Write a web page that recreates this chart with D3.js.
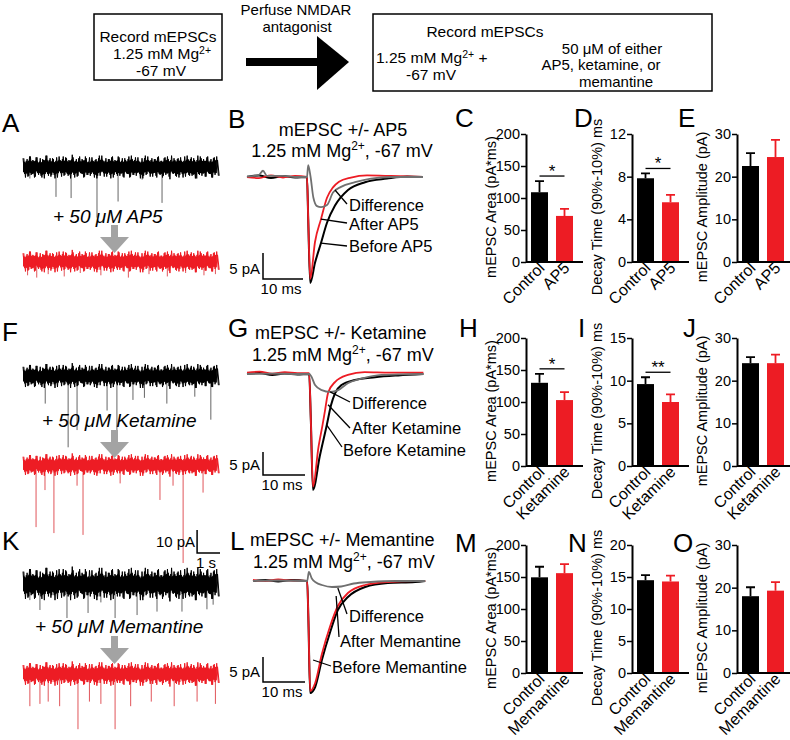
<!DOCTYPE html>
<html>
<head>
<meta charset="utf-8">
<script src="https://cdn.jsdelivr.net/npm/d3@7"></script>
<style>
  body { margin: 0; background: #fff; }
  text { font-family: "Liberation Sans", Arial, sans-serif; fill: #000; }
</style>
</head>
<body>
<div class="chart"></div>
<script>
// ---------- data ----------
const drugs = ['AP5', 'Ketamine', 'Memantine'];

const areaControl = [109, 130, 149.5];
const areaControlErr = [17.5, 14, 16.5];
const areaDrug = [72, 103, 156];
const areaDrugErr = [11, 12.5, 14];

const decayControl = [7.85, 9.6, 14.5];
const decayControlErr = [0.45, 0.8, 0.8];
const decayDrug = [5.6, 7.5, 14.3];
const decayDrugErr = [0.7, 0.9, 0.9];

const ampControl = [22.5, 24.1, 18];
const ampControlErr = [3, 1.4, 2.1];
const ampDrug = [24.6, 24.1, 19.3];
const ampDrugErr = [4, 2, 2];

const areaTicks = [0, 50, 100, 150, 200];
const decayTicks = [[0, 4, 8, 12], [0, 5, 10, 15], [0, 5, 10, 15, 20]];
const ampTicks = [0, 10, 20, 30];

const areaSig = ['*', '*', ''];
const decaySig = ['*', '**', ''];
const ampSig = ['', '', ''];

// averaged mEPSC waveforms [ms, pA]
const ap5Before = [[0, 0], [3, 0.3], [6, -0.2], [9, 0.2], [12, -0.1], [15, 0], [15.3, -8], [15.8, -20.4], [17, -16.5], [18.5, -12.7], [20, -8.8], [22, -5.5], [25.25, -2.5], [29.5, -1], [35, -0.3], [40, 0.1], [44, 0]];
const ap5After = [[0, 0], [3, -0.2], [6, 0.3], [9, -0.1], [12, 0.2], [15, 0], [15.3, -8], [15.8, -19.6], [17, -12.5], [18.5, -8.1], [20, -4], [21.5, -2], [23, -0.9], [26, -0.1], [30, 0.3], [36, 0.2], [44, 0]];
const ap5Diff = [[0, 0.1], [3, 0.4], [4, 1.2], [5, 0.2], [9, 0.2], [12, 0], [15, 0], [15.3, 2.3], [15.9, 0], [16.6, -4], [17.5, -5.6], [18.5, -5.8], [20, -5.4], [21.5, -3], [23.5, -1.9], [27, -1], [31, -0.3], [36, 0], [44, 0]];

const ketBefore = [[0, 0], [3, 0.2], [6, -0.2], [9, 0.1], [12, -0.1], [14.8, 0], [15.2, -10], [15.7, -25.2], [17.3, -18], [19, -11.1], [20, -6.8], [20.95, -4.2], [22.5, -2.4], [25.7, -1.3], [30.5, -0.7], [36, -0.3], [42, 0]];
const ketAfter = [[0, 0.3], [3, 0.5], [6, 0.1], [9, 0.4], [12, 0.2], [14.8, 0.2], [15.2, -10], [15.7, -24.5], [17, -16], [18, -11], [18.6, -7.8], [19.3, -4.1], [21, -1.7], [24, -0.2], [28, 0.4], [34, 0.3], [42, 0.3]];
const ketDiff = [[0, 0], [6, 0.1], [12, 0], [14.8, 0], [15.3, -0.5], [16.2, -2.4], [17.8, -3.5], [19.8, -3.9], [21.7, -3.5], [24, -2], [27.3, -1], [32, -0.2], [36, -0.1], [42, 0]];

const memBefore = [[0, 0], [3, 0.2], [6, -0.1], [9, 0.2], [12.9, 0], [13.2, -8], [13.6, -22.4], [14.8, -21.2], [16.4, -15.8], [18.3, -10.4], [20.2, -5.8], [22.6, -3.2], [26.7, -1.2], [32.1, -0.4], [38.6, -0.2], [41, 0]];
const memAfter = [[0, 0.2], [3, 0], [6, 0.3], [9, 0.1], [12.9, 0], [13.2, -8], [13.6, -22], [14.8, -20.4], [16.4, -14.6], [18.3, -9.2], [20.2, -5], [22.6, -2.4], [26.7, -0.8], [32.1, -0.2], [38.6, 0], [41, 0]];
const memDiff = [[0, 0], [6, 0.1], [12.9, 0], [13.3, 1.8], [14, 0.5], [15, -0.3], [16.4, -0.8], [18.8, -1.2], [21, -1.1], [24, -0.5], [28, -0.2], [34, 0], [41, 0]];

// raw recordings: noise envelope (fraction of band) and events [s, pA]
const noiseUpper = [1.0, 0.7, 1.2, 0.8, 1.1, 0.6, 0.9, 1.3, 0.8, 1.0, 0.7, 1.2, 0.9, 1.1, 0.8, 1.4, 0.7, 1.0, 0.9, 1.2, 0.6, 1.1, 0.8, 1.0, 1.3, 0.7, 0.9, 1.1, 0.8, 1.2, 0.7, 1.0, 0.9, 1.3, 0.8, 1.1, 0.6, 1.0, 1.2, 0.8, 0.9, 1.1, 0.7, 1.0, 1.2, 0.8, 1.0, 0.9, 1.1, 0.7, 1.3, 0.9, 1.0, 0.8, 1.2, 0.9, 1.1, 0.7, 1.0, 1.2];
const noiseLower = [0.8, 1.1, 0.9, 1.2, 0.7, 1.0, 1.3, 0.8, 1.1, 0.9, 1.2, 0.7, 1.0, 0.8, 1.3, 0.9, 1.1, 0.7, 1.2, 0.9, 1.0, 0.8, 1.3, 1.0, 0.7, 1.1, 0.9, 1.2, 0.8, 1.0, 1.1, 0.7, 1.2, 0.9, 1.0, 0.8, 1.3, 0.9, 0.7, 1.1, 1.0, 0.8, 1.2, 0.9, 1.1, 0.7, 1.0, 1.2, 0.8, 1.1, 0.9, 1.0, 1.3, 0.8, 1.0, 1.1, 0.7, 1.2, 0.9, 1.0];

const ap5ControlEvents = [[1.44, 13], [2.1, 13.5], [3.23, 22], [4.15, 15], [6.07, 15.6], [0.3, 5], [5.2, 5.5], [7.6, 5]];
const ap5DrugEvents = [[0.2, 6], [0.6, 7], [1.1, 5.5], [1.8, 6.5], [2.5, 5], [3.4, 6], [4.6, 7], [5.5, 5.5], [6.3, 6.5], [7.1, 5], [7.9, 6], [8.4, 5.5]];
const ketControlEvents = [[0.97, 12], [1.97, 31], [2.36, 23.5], [3.67, 15], [4.1, 26.5], [4.8, 10.4], [5.3, 9.5], [6.28, 12], [7.5, 9], [8.2, 19]];
const ketDrugEvents = [[0.57, 27], [0.96, 10.9], [1.35, 29.6], [2.36, 9], [2.62, 30.4], [4.24, 8], [5.98, 15.2], [6.55, 9], [6.99, 42.6], [7.86, 12]];
const memControlEvents = [[0.74, 11.3], [1.92, 14.8], [2.84, 12.6], [4.02, 14.8], [4.98, 13.5], [5.85, 12], [6.94, 12], [8.03, 11], [8.3, 9], [0.3, 7], [3.4, 8], [6.4, 7]];
const memDrugEvents = [[0.3, 14], [0.74, 13], [1.1, 12], [1.6, 14], [2.4, 24], [2.9, 12], [3.4, 13], [4.02, 24], [4.7, 14], [5.6, 12], [6.6, 14], [7.6, 12], [8.4, 13]];

// ---------- setup ----------
const RED = '#ed1c24';
const svg = d3.select('.chart').append('svg')
  .attr('width', 790).attr('height', 740);

const panelLabel = (t, x, y) => svg.append('text').attr('x', x).attr('y', y)
  .attr('font-size', 26).text(t);

// ---------- flow diagram ----------
const flow = svg.append('g');
flow.append('rect').attr('x', 94).attr('y', 14).attr('width', 128).attr('height', 66)
  .attr('fill', 'none').attr('stroke', '#000').attr('stroke-width', 1.5);
flow.append('rect').attr('x', 373).attr('y', 14).attr('width', 339).attr('height', 77)
  .attr('fill', 'none').attr('stroke', '#000').attr('stroke-width', 1.5);

const mgLine = (g, x, y, anchor, tail) => {
  const t = g.append('text').attr('x', x).attr('y', y).attr('font-size', 15.5).attr('text-anchor', anchor);
  t.append('tspan').text('1.25 mM Mg');
  t.append('tspan').attr('font-size', 10.5).attr('dy', -5).text('2+');
  if (tail) t.append('tspan').attr('dy', 5).text(tail);
  return t;
};
flow.append('text').attr('x', 158).attr('y', 42).attr('font-size', 15.5).attr('text-anchor', 'middle').text('Record mEPSCs');
mgLine(flow, 162, 59, 'middle');
flow.append('text').attr('x', 161).attr('y', 76).attr('font-size', 15.5).attr('text-anchor', 'middle').text('-67 mV');

flow.append('text').attr('x', 296).attr('y', 15).attr('font-size', 15).attr('text-anchor', 'middle').text('Perfuse NMDAR');
flow.append('text').attr('x', 297).attr('y', 32).attr('font-size', 15).attr('text-anchor', 'middle').text('antagonist');
flow.append('rect').attr('x', 246).attr('y', 58).attr('width', 73).attr('height', 8).attr('fill', '#000');
flow.append('path').attr('d', 'M317,36 L349,62 L317,90 Z').attr('fill', '#000');

flow.append('text').attr('x', 485).attr('y', 37).attr('font-size', 15.5).attr('text-anchor', 'middle').text('Record mEPSCs');
mgLine(flow, 376, 63, 'start', ' +');
flow.append('text').attr('x', 431).attr('y', 80).attr('font-size', 15.5).attr('text-anchor', 'middle').text('-67 mV');
flow.append('text').attr('x', 612).attr('y', 54).attr('font-size', 15).attr('text-anchor', 'middle').text('50 μM of either');
flow.append('text').attr('x', 601).attr('y', 70).attr('font-size', 15).attr('text-anchor', 'middle').text('AP5, ketamine, or');
flow.append('text').attr('x', 616).attr('y', 87).attr('font-size', 15).attr('text-anchor', 'middle').text('memantine');

// ---------- raw recordings ----------
const rawX = d3.scaleLinear().domain([0, 8.6]).range([23, 220]);
const noiseT = d3.scaleLinear().domain([0, noiseUpper.length]).range([0, 8.6]);
const PX_PER_PA_RAW = 2.3;

const rawTrace = (cy, halfPa, events, color, eventColor) => {
  const y = d3.scaleLinear().domain([0, -50]).range([cy, cy + 50 * PX_PER_PA_RAW]);
  const g = svg.append('g');
  g.selectAll('line').data(events).enter().append('line')
    .attr('x1', d => rawX(d[0])).attr('x2', d => rawX(d[0]))
    .attr('y1', y(0)).attr('y2', d => y(-d[1]))
    .attr('stroke', eventColor).attr('stroke-width', 1);
  // solid core of the noise band
  const core = d3.area()
    .x((d, i) => rawX(noiseT(i)))
    .y0((d, i) => y(-halfPa * 0.7 * noiseLower[i]))
    .y1(d => y(halfPa * 0.7 * d));
  g.append('path').datum(noiseUpper).attr('d', core).attr('fill', color);
  // zig-zag noise excursions, two interleaved passes
  const zig = (up, lo, shift) => up.flatMap((u, i) => [
    [rawX(noiseT(i + shift)), y(halfPa * u)],
    [rawX(noiseT(i + shift + 0.5)), y(-halfPa * lo[i])]
  ]);
  const ln = d3.line();
  g.append('path').attr('d', ln(zig(noiseUpper, noiseLower, 0)))
    .attr('fill', 'none').attr('stroke', color).attr('stroke-width', 1);
  g.append('path').attr('d', ln(zig(noiseLower.slice().reverse(), noiseUpper.slice().reverse(), 0.25)))
    .attr('fill', 'none').attr('stroke', color).attr('stroke-width', 1);
  return y;
};

const drugNote = (text, x, y, arrowTop) => {
  svg.append('text').attr('x', x).attr('y', y).attr('font-size', 19)
    .attr('font-style', 'italic').text(text);
  svg.append('path')
    .attr('d', `M111,${arrowTop} L118,${arrowTop} L118,${arrowTop + 12} L129,${arrowTop + 12} L114.5,${arrowTop + 28} L100,${arrowTop + 12} L111,${arrowTop + 12} Z`)
    .attr('fill', '#a3a3a3');
};

panelLabel('A', 2, 132);
rawTrace(167, 3.8, ap5ControlEvents, '#000', '#666');
drugNote('+ 50 μM AP5', 53, 223, 225);
rawTrace(261.5, 3.6, ap5DrugEvents, RED, '#e0555a');

panelLabel('F', 2, 341);
rawTrace(376, 4.0, ketControlEvents, '#000', '#666');
rawTrace(465, 3.6, ketDrugEvents, RED, '#e0555a');
drugNote('+ 50 μM Ketamine', 42, 427, 430);

panelLabel('K', 2, 550);
const kY = rawTrace(584, 5.4, memControlEvents, '#000', '#666');
drugNote('+ 50 μM Memantine', 35, 633, 636);
rawTrace(674, 3.9, memDrugEvents, RED, '#e0555a');

// 10 pA / 1 s scale bar
const sbx = rawX(7.6), sbx2 = rawX(8.6), sby = 553;
svg.append('path')
  .attr('d', `M${sbx},${sby - (kY(-10) - kY(0))} V${sby} H${sbx2}`)
  .attr('fill', 'none').attr('stroke', '#000').attr('stroke-width', 1.5);
svg.append('text').attr('x', sbx - 2).attr('y', 547).attr('font-size', 15).attr('text-anchor', 'end').text('10 pA');
svg.append('text').attr('x', sbx + 9).attr('y', 568).attr('font-size', 15).attr('text-anchor', 'middle').text('1 s');

// ---------- averaged mEPSCs ----------
const tracePanels = [
  { label: 'B', lx: 228, ly: 128, title: 'mEPSC +/- AP5', tx: 343, ty: 136, anchor: 'middle', sx: 342, sy: 157, sanchor: 'middle',
    x0: 247, msPx: 4, base: 177, paPx: 5.2, dur: 44, barX: 263, barY: 279,
    before: ap5Before, after: ap5After, diff: ap5Diff,
    leaders: [[22, -2.5, 347, 204, 349, 211, 'Difference'], [18.5, -8.1, 347, 223, 349, 230, 'After AP5'], [18.5, -12.7, 347, 246, 349, 252, 'Before AP5']] },
  { label: 'G', lx: 228, ly: 337, title: 'mEPSC +/- Ketamine', tx: 255, ty: 339, anchor: 'start', sx: 252, sy: 361, sanchor: 'start',
    x0: 247, msPx: 4.2, base: 374, paPx: 4.6, dur: 42, barX: 263, barY: 475,
    before: ketBefore, after: ketAfter, diff: ketDiff,
    leaders: [[19.8, -3.9, 350, 402, 352, 409, 'Difference'], [19.3, -6.7, 350, 428, 352, 434, 'After Ketamine'], [19.0, -11.1, 342, 447, 343, 456, 'Before Ketamine']] },
  { label: 'L', lx: 230, ly: 550, title: 'mEPSC +/- Memantine', tx: 250, ty: 546, anchor: 'start', sx: 253, sy: 568, sanchor: 'start',
    x0: 253, msPx: 4.2, base: 581, paPx: 5, dur: 41, barX: 263, barY: 682,
    before: memBefore, after: memAfter, diff: memDiff,
    leaders: [[20.2, -1.4, 347, 614, 349, 622, 'Difference'], [19.8, -3, 339, 637, 340, 647, 'After Memantine'], [14.3, -15.8, 331, 666, 332, 673, 'Before Memantine']] }
];

tracePanels.forEach(p => {
  panelLabel(p.label, p.lx, p.ly);
  svg.append('text').attr('x', p.tx).attr('y', p.ty).attr('font-size', 18)
    .attr('text-anchor', p.anchor).text(p.title);
  const sub = svg.append('text').attr('x', p.sx).attr('y', p.sy).attr('font-size', 18)
    .attr('text-anchor', p.sanchor);
  sub.append('tspan').text('1.25 mM Mg');
  sub.append('tspan').attr('font-size', 12).attr('dy', -7).text('2+');
  sub.append('tspan').attr('dy', 7).text(', -67 mV');

  const x = d3.scaleLinear().domain([0, p.dur]).range([p.x0, p.x0 + p.dur * p.msPx]);
  const y = d3.scaleLinear().domain([0, -30]).range([p.base, p.base + 30 * p.paPx]);
  const line = d3.line().x(d => x(d[0])).y(d => y(d[1])).curve(d3.curveMonotoneX);

  svg.append('path').datum(p.before).attr('d', line).attr('fill', 'none').attr('stroke', '#000').attr('stroke-width', 2);
  svg.append('path').datum(p.after).attr('d', line).attr('fill', 'none').attr('stroke', RED).attr('stroke-width', 1.8);
  svg.append('path').datum(p.diff).attr('d', line).attr('fill', 'none').attr('stroke', '#707070').attr('stroke-width', 1.8);

  p.leaders.forEach(([t, v, ex, ey, tx, ty, txt]) => {
    svg.append('line').attr('x1', x(t)).attr('y1', y(v)).attr('x2', ex).attr('y2', ey)
      .attr('stroke', '#000').attr('stroke-width', 1.3);
    svg.append('text').attr('x', tx).attr('y', ty).attr('font-size', 16.5).text(txt);
  });

  // 5 pA / 10 ms scale bar
  const vLen = y(-5) - y(0), hLen = x(10) - x(0);
  svg.append('path').attr('d', `M${p.barX},${p.barY - vLen} V${p.barY} H${p.barX + hLen}`)
    .attr('fill', 'none').attr('stroke', '#000').attr('stroke-width', 1.5);
  svg.append('text').attr('x', p.barX - 3).attr('y', p.barY - 5).attr('font-size', 15)
    .attr('text-anchor', 'end').text('5 pA');
  svg.append('text').attr('x', p.barX + hLen / 2 - 2).attr('y', p.barY + 15).attr('font-size', 15)
    .attr('text-anchor', 'middle').text('10 ms');
});

// ---------- bar charts ----------
const colX = [526, 632, 737];
const rowY = [[134, 262], [338, 466], [545, 673]];
const rowLabels = [['C', 'D', 'E'], ['H', 'I', 'J'], ['M', 'N', 'O']];
const rowLabelY = [127, 337, 552];
const colLabelX = [[455, 574, 678], [459, 578, 683], [455, 568, 673]];

const metrics = [
  { title: 'mEPSC Area (pA*ms)', ctrl: areaControl, ctrlErr: areaControlErr, drug: areaDrug, drugErr: areaDrugErr, ticks: () => areaTicks, sig: areaSig },
  { title: 'Decay Time (90%-10%) ms', ctrl: decayControl, ctrlErr: decayControlErr, drug: decayDrug, drugErr: decayDrugErr, ticks: r => decayTicks[r], sig: decaySig },
  { title: 'mEPSC Amplitude (pA)', ctrl: ampControl, ctrlErr: ampControlErr, drug: ampDrug, drugErr: ampDrugErr, ticks: () => ampTicks, sig: ampSig }
];

drugs.forEach((drug, r) => {
  const [top, bottom] = rowY[r];
  metrics.forEach((m, c) => {
    const ax = colX[c];
    const ticks = m.ticks(r);
    const yS = d3.scaleLinear().domain([0, d3.max(ticks)]).range([bottom, top]);
    const xS = d3.scaleBand().domain(['Control', drug]).range([ax + 1, ax + 51])
      .paddingInner(0.32).paddingOuter(0.16);
    const g = svg.append('g');

    panelLabel(rowLabels[r][c], colLabelX[r][c], rowLabelY[r]);

    const yAxis = d3.axisLeft(yS).tickValues(ticks).tickSize(5).tickPadding(1).tickSizeOuter(0);
    const ya = g.append('g').attr('transform', `translate(${ax},0)`).call(yAxis);
    ya.select('.domain').attr('stroke-width', 2);
    ya.selectAll('.tick line').attr('stroke-width', 1.5);
    ya.selectAll('.tick text').attr('font-size', 14.5).attr('font-family', '"Liberation Sans", Arial, sans-serif').attr('fill', '#000');

    const rows = [
      { k: 'Control', v: m.ctrl[r], e: m.ctrlErr[r], col: '#000' },
      { k: drug, v: m.drug[r], e: m.drugErr[r], col: RED }
    ];
    g.selectAll('.bar').data(rows).enter().append('rect')
      .attr('x', d => xS(d.k)).attr('width', xS.bandwidth())
      .attr('y', d => yS(d.v)).attr('height', d => yS(0) - yS(d.v))
      .attr('fill', d => d.col);
    g.selectAll('.err').data(rows).enter().append('path')
      .attr('d', d => {
        const cx = xS(d.k) + xS.bandwidth() / 2;
        return `M${cx},${yS(d.v)} V${yS(d.v + d.e)} M${cx - 4.5},${yS(d.v + d.e)} H${cx + 4.5}`;
      })
      .attr('stroke', d => d.col).attr('stroke-width', 1.8).attr('fill', 'none');

    g.append('line').attr('x1', ax).attr('x2', ax + 57).attr('y1', bottom).attr('y2', bottom)
      .attr('stroke', '#000').attr('stroke-width', 2);

    g.selectAll('.xl').data(rows).enter().append('text')
      .attr('transform', d => `translate(${xS(d.k) + xS.bandwidth() / 2 + 6},${bottom + 7}) rotate(-45)`)
      .attr('text-anchor', 'end').attr('font-size', 16).text(d => d.k);

    g.append('text')
      .attr('transform', `translate(${ax - 30},${(top + bottom) / 2 + 9}) rotate(-90)`)
      .attr('text-anchor', 'middle').attr('font-size', 14.5).text(m.title);

    const s = m.sig[r];
    if (s) {
      const ly = yS(Math.max(rows[0].v + rows[0].e, rows[1].v + rows[1].e)) - 5;
      const c0 = xS('Control') + xS.bandwidth() / 2, c1 = xS(drug) + xS.bandwidth() / 2;
      g.append('line').attr('x1', c0).attr('x2', c1).attr('y1', ly).attr('y2', ly)
        .attr('stroke', '#000').attr('stroke-width', 1.3);
      g.append('text').attr('x', (c0 + c1) / 2).attr('y', ly + 1).attr('font-size', 17)
        .attr('text-anchor', 'middle').text(s);
    }
  });
});
</script>
</body>
</html>
